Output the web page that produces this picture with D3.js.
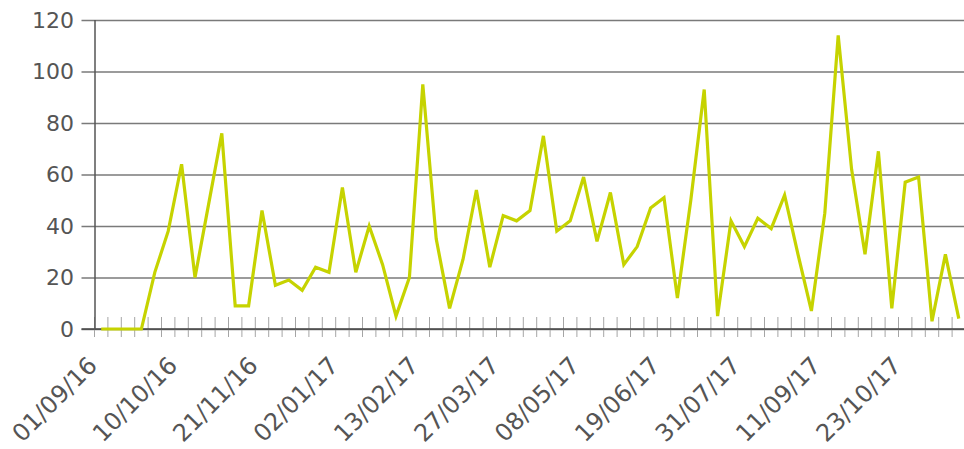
<!DOCTYPE html>
<html>
<head>
<meta charset="utf-8">
<script src="https://cdn.jsdelivr.net/npm/d3@7"></script>
<style>
  body { margin: 0; background: #fff; }
  .grid line { stroke: #7a7a7a; stroke-width: 1.5px; }
  text { font-family: "DejaVu Sans", Verdana, sans-serif; fill: #555; }
</style>
</head>
<body>
<div class="viz"></div>
<script>
// weekly buckets (first one is a partial week)
var weeks = [
  "01/09/16", "05/09/16", "12/09/16", "19/09/16", "26/09/16", "03/10/16",
  "10/10/16", "17/10/16", "24/10/16", "31/10/16", "07/11/16", "14/11/16",
  "21/11/16", "28/11/16", "05/12/16", "12/12/16", "19/12/16", "26/12/16",
  "02/01/17", "09/01/17", "16/01/17", "23/01/17", "30/01/17", "06/02/17",
  "13/02/17", "20/02/17", "27/02/17", "06/03/17", "13/03/17", "20/03/17",
  "27/03/17", "03/04/17", "10/04/17", "17/04/17", "24/04/17", "01/05/17",
  "08/05/17", "15/05/17", "22/05/17", "29/05/17", "05/06/17", "12/06/17",
  "19/06/17", "26/06/17", "03/07/17", "10/07/17", "17/07/17", "24/07/17",
  "31/07/17", "07/08/17", "14/08/17", "21/08/17", "28/08/17", "04/09/17",
  "11/09/17", "18/09/17", "25/09/17", "02/10/17", "09/10/17", "16/10/17",
  "23/10/17", "30/10/17", "06/11/17", "13/11/17", "20/11/17"
];

var counts = [
  0, 0, 0, 0, 22, 38, 64, 20, 48, 76, 9, 9,
  46, 17, 19, 15, 24, 22, 55, 22, 40, 25, 5, 20,
  95, 35, 8, 27, 54, 24, 44, 42, 46, 75, 38, 42,
  59, 34, 53, 25, 32, 47, 51, 12, 50, 93, 5, 42,
  32, 43, 39, 52, 29, 7, 45, 114, 62, 29, 69, 8,
  57, 59, 3, 29, 4
];

var labelWeeks = [
  "01/09/16", "10/10/16", "21/11/16", "02/01/17", "13/02/17", "27/03/17",
  "08/05/17", "19/06/17", "31/07/17", "11/09/17", "23/10/17"
];

var yTicks = [0, 20, 40, 60, 80, 100, 120];

var width = 964,
  height = 449,
  margin = { top: 20, left: 94.5, bottom: 120, right: 0 },
  step = 13.4;

var svg = d3
  .select(".viz")
  .append("svg")
  .attr("width", width)
  .attr("height", height);

var x = d3
  .scaleBand()
  .domain(weeks)
  .range([margin.left, margin.left + weeks.length * step])
  .padding(0);

var y = d3
  .scaleLinear()
  .domain([0, 120])
  .range([height - margin.bottom, margin.top]);

// horizontal grid, runs a bit left of the axis as a tick
svg
  .append("g")
  .attr("class", "grid")
  .attr("transform", "translate(" + margin.left + ",0)")
  .call(
    d3.axisLeft(y)
      .tickValues(yTicks)
      .tickSize(-(width - margin.left))
      .tickFormat("")
  )
  .call(function (g) {
    g.select(".domain").remove();
    g.selectAll(".tick line").attr("x1", -13);
  });

// y labels
svg
  .append("g")
  .selectAll("text")
  .data(yTicks)
  .enter()
  .append("text")
  .attr("x", 74)
  .attr("y", function (d) {
    return y(d);
  })
  .attr("dy", "0.36em")
  .attr("text-anchor", "end")
  .style("font-size", "22px")
  .text(function (d) {
    return d;
  });

// small week ticks across the baseline
svg
  .append("g")
  .selectAll("line")
  .data(weeks)
  .enter()
  .append("line")
  .attr("x1", function (d) {
    return x(d);
  })
  .attr("x2", function (d) {
    return x(d);
  })
  .attr("y1", y(0) - 12)
  .attr("y2", y(0) + 8)
  .attr("stroke", "#a5a5a5")
  .attr("stroke-width", 1);

// baseline and left axis
svg
  .append("line")
  .attr("x1", margin.left - 13)
  .attr("x2", width)
  .attr("y1", y(0))
  .attr("y2", y(0))
  .attr("stroke", "#444")
  .attr("stroke-width", 1.5);

svg
  .append("line")
  .attr("x1", margin.left + 0.5)
  .attr("x2", margin.left + 0.5)
  .attr("y1", y(120))
  .attr("y2", y(0))
  .attr("stroke", "#555")
  .attr("stroke-width", 1.5);

// rotated date labels
svg
  .append("g")
  .selectAll("text")
  .data(labelWeeks)
  .enter()
  .append("text")
  .attr("text-anchor", "end")
  .attr("transform", function (d) {
    return "translate(" + (x(d) + 4) + "," + (y(0) + 38) + ")rotate(-45)";
  })
  .style("font-size", "24px")
  .text(function (d) {
    return d;
  });

var line = d3
  .line()
  .x(function (d, i) {
    return x(weeks[i]) + x.bandwidth() / 2;
  })
  .y(function (d) {
    return y(d);
  });

svg
  .append("path")
  .datum(counts)
  .attr("d", line)
  .attr("fill", "none")
  .attr("stroke", "#c6d300")
  .attr("stroke-width", 3.2)
  .attr("stroke-linejoin", "miter");
</script>
</body>
</html>
